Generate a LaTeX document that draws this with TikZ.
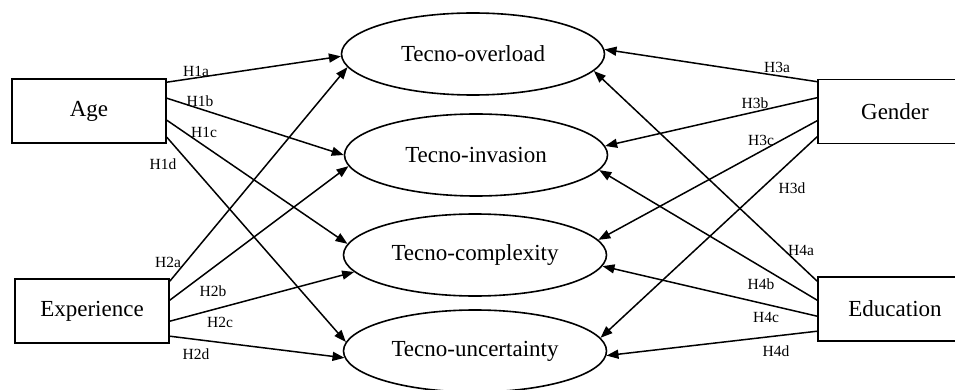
\documentclass[tikz,border=0pt]{standalone}
\usepackage{fontspec}
\setmainfont{Liberation Serif}
\usetikzlibrary{shapes.geometric,arrows.meta,calc}
\begin{document}
\begin{tikzpicture}[x=1pt,y=-1pt,
  box/.style={draw,line width=1.6pt,minimum width=154pt,minimum height=64pt,inner sep=0pt,font=\fontsize{23}{27}\selectfont},
  oval/.style={draw,ellipse,line width=1.6pt,minimum width=263pt,minimum height=82pt,inner sep=0pt,font=\fontsize{23}{27}\selectfont},
  hyp/.style={font=\fontsize{15.5}{18}\selectfont,inner sep=0pt},
  arr/.style={line width=1.5pt,-{Triangle[length=12pt,width=9pt]}}]
\useasboundingbox (0,0) rectangle (955,390);
\clip (0,0) rectangle (955,390);
% constructs
\node[oval] (ov) at (473,54) {Tecno-overload};
\node[oval] (in) at (476,155) {Tecno-invasion};
\node[oval] (co) at (475,255) {Tecno-complexity};
\node[oval] (un) at (475,351) {Tecno-uncertainty};
% predictors
\node[box] (age) at (89,111) {Age};
\node[box] (exp) at (92,311) {Experience};
\node[box] (gen) at (895,111.5) {Gender};
\node[box] (edu) at (895,309) {Education};
% Age
\draw[arr] ($(age.north east)+(0,4)$) -- (ov.181);
\draw[arr] ($(age.north east)+(0,20)$) -- (in.180);
\draw[arr] ($(age.north east)+(0,42)$) -- (co.175);
\draw[arr] ($(age.north east)+(0,59)$) -- (un.176);
% Experience
\draw[arr] ($(exp.north east)+(0,3)$) -- (ov.186);
\draw[arr] ($(exp.north east)+(0,22)$) -- (in.185);
\draw[arr] ($(exp.north east)+(0,43)$) -- (co.188);
\draw[arr] ($(exp.north east)+(0,58)$) -- (un.183);
% Gender
\draw[arr] ($(gen.north west)+(0,3)$) -- (ov.2);
\draw[arr] ($(gen.north west)+(0,19)$) -- (in.4);
\draw[arr] ($(gen.north west)+(0,42)$) -- (co.7);
\draw[arr] ($(gen.north west)+(0,58)$) -- (un.6);
% Education
\draw[arr] ($(edu.north west)+(0,5)$) -- (ov.352);
\draw[arr] ($(edu.north west)+(0,24)$) -- (in.353);
\draw[arr] ($(edu.north west)+(0,40)$) -- (co.355);
\draw[arr] ($(edu.north west)+(0,55)$) -- (un.358);
% labels
\node[hyp] (l1a) at (196,71) {H1a};
\node[hyp] (l1b) at (200,101) {H1b};
\node[hyp] (l1c) at (204,132) {H1c};
\node[hyp] (l1d) at (163,164) {H1d};
\node[hyp] (l2a) at (168,262) {H2a};
\node[hyp] (l2b) at (213,291) {H2b};
\node[hyp] (l2c) at (220,322) {H2c};
\node[hyp] (l2d) at (196,354) {H2d};
\node[hyp] (l3a) at (777,67) {H3a};
\node[hyp] (l3b) at (755,103) {H3b};
\node[hyp] (l3c) at (761,140) {H3c};
\node[hyp] (l3d) at (792,188) {H3d};
\node[hyp] (l4a) at (801,250) {H4a};
\node[hyp] (l4b) at (761,284) {H4b};
\node[hyp] (l4c) at (766,317) {H4c};
\node[hyp] (l4d) at (776,351) {H4d};
\end{tikzpicture}
\end{document}
